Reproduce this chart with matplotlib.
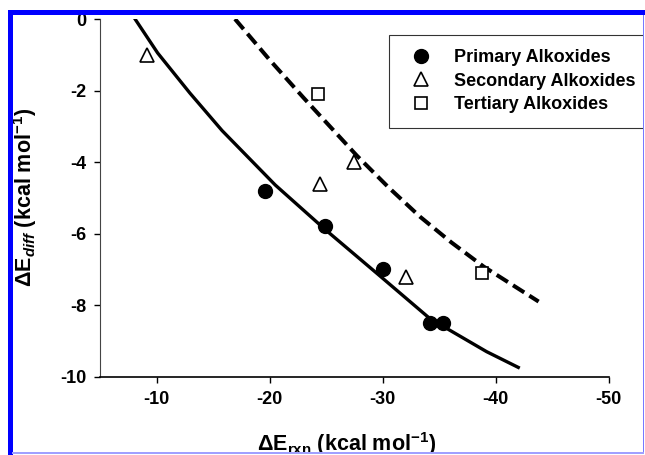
import matplotlib.pyplot as plt
from matplotlib.patches import Rectangle

plt.rcParams["font.family"] = ["Liberation Sans", "DejaVu Sans"]
plt.rcParams["font.weight"] = "bold"
plt.rcParams["axes.labelweight"] = "bold"
plt.rcParams["mathtext.fontset"] = "custom"
plt.rcParams["mathtext.rm"] = "Liberation Sans:bold"
plt.rcParams["mathtext.it"] = "Liberation Sans:bold:italic"
plt.rcParams["mathtext.bf"] = "Liberation Sans:bold"

# data
primary_x = [-19.6, -24.9, -30.0, -34.2, -35.3]
primary_y = [-4.8, -5.8, -7.0, -8.5, -8.5]
secondary_x = [-9.2, -24.5, -27.5, -32.1]
secondary_y = [-1.0, -4.6, -4.0, -7.2]
tertiary_x = [-24.3, -38.8]
tertiary_y = [-2.1, -7.1]

# fitted curves, points
fit_solid_x = [-8.1, -10.1, -12.95, -15.8, -20.5, -24.9, -29.9, -34.2, -39.2, -42.0]
fit_solid_y = [0.0, -0.95, -2.07, -3.12, -4.64, -5.88, -7.22, -8.38, -9.30, -9.74]
fit_dash_x = [-16.94, -20.0, -23.0, -27.72, -30.5, -33.32, -36.1, -38.93, -43.8]
fit_dash_y = [0.0, -1.14, -2.20, -3.82, -4.70, -5.53, -6.25, -6.92, -7.90]

x_ticks = [-10, -20, -30, -40, -50]
y_ticks = [0, -2, -4, -6, -8, -10]

W, H = 645, 455
fig = plt.figure(figsize=(W / 100, H / 100), dpi=100)
ax = fig.add_axes([100 / W, 1 - 376.7 / H, 508.7 / W, 357.7 / H])

ax.plot(fit_solid_x, fit_solid_y, color="black", lw=2.4, solid_joinstyle="round")
ax.plot(fit_dash_x, fit_dash_y, color="black", lw=2.9, dashes=(3.3, 1.5))

ax.plot(primary_x, primary_y, "o", color="black", ms=10, ls="none",
        label="Primary Alkoxides", zorder=3)
ax.plot(secondary_x, secondary_y, "^", mfc="white", mec="black", mew=1.2,
        ms=9.5, ls="none", label="Secondary Alkoxides", zorder=3)
ax.plot(tertiary_x, tertiary_y, "s", mfc="white", mec="black", mew=1.2,
        ms=9, ls="none", label="Tertiary Alkoxides", zorder=3)

ax.set_xlim(-5, -50)
ax.set_ylim(-10, 0)
ax.set_xticks(x_ticks)
ax.set_yticks(y_ticks)
ax.set_xticklabels([str(t) for t in x_ticks])
ax.set_yticklabels([str(t) for t in y_ticks])
ax.tick_params(direction="out", length=4, width=1, labelsize=13, pad=6)
ax.spines["top"].set_visible(False)
ax.spines["right"].set_visible(False)
ax.spines["left"].set_linewidth(0.8)
ax.spines["left"].set_color("#444444")
ax.spines["bottom"].set_linewidth(1.2)

ax.set_xlabel(r"$\Delta$E$_{\mathrm{rxn}}$ (kcal mol$^{-1}$)", fontsize=15.5)
ax.set_ylabel(r"$\Delta$E$_{diff}$ (kcal mol$^{-1}$)", fontsize=15.5)
ax.xaxis.set_label_coords(0.485, -0.150)
ax.yaxis.set_label_coords(-0.12, 0.5)

leg = ax.legend(loc="upper left", bbox_to_anchor=(389 / W, 1 - 35 / H),
                bbox_transform=fig.transFigure, fontsize=13, frameon=True,
                fancybox=False, borderpad=0.8, borderaxespad=0,
                handlelength=1.9, handletextpad=0.9, labelspacing=0.35)
leg.get_frame().set_edgecolor("black")
leg.get_frame().set_linewidth(0.8)

# screenshot selection border
fig.add_artist(Rectangle((0, 1 - 10 / H), 1, 10 / H, transform=fig.transFigure,
                         facecolor="white", edgecolor="none", zorder=10))
fig.add_artist(Rectangle((8 / W, 1 - 14.5 / H), 1, 4.5 / H, transform=fig.transFigure,
                         facecolor="#0000ff", edgecolor="none", zorder=11))
fig.add_artist(Rectangle((8 / W, 0), 4.5 / W, 1 - 10 / H, transform=fig.transFigure,
                         facecolor="#0000ff", edgecolor="none", zorder=11))
fig.add_artist(Rectangle((644 / W, 0), 1, 1, transform=fig.transFigure,
                         facecolor="white", edgecolor="none", zorder=10))
fig.add_artist(Rectangle((0, 0), 1, 1.5 / H, transform=fig.transFigure,
                         facecolor="white", edgecolor="none", zorder=10))
fig.add_artist(Rectangle((642.5 / W, 1.5 / H), 1.5 / W, 1 - 16 / H,
                         transform=fig.transFigure, facecolor="#7878ff",
                         edgecolor="none", zorder=11))
fig.add_artist(Rectangle((12 / W, 1.5 / H), 632 / W, 1.5 / H,
                         transform=fig.transFigure, facecolor="#a0a0ff",
                         edgecolor="none", zorder=11))

fig.savefig("out.png", dpi=100)
